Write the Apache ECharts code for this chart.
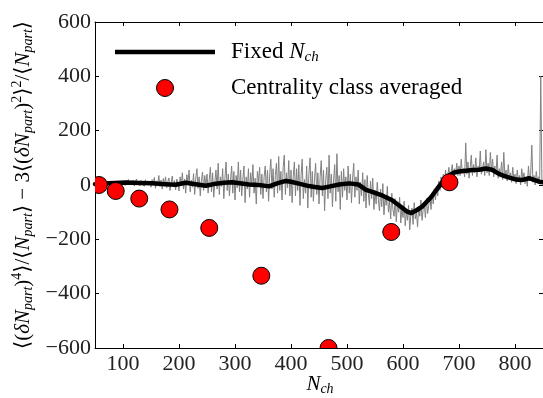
<!DOCTYPE html>
<html>
<head>
<meta charset="utf-8">
<script src="https://cdn.jsdelivr.net/npm/echarts@6/dist/echarts.min.js"></script>
<style>
html,body{margin:0;padding:0;background:#fff;}
#chart{width:543px;height:398px;}
</style>
</head>
<body>
<div id="chart"></div>
<script>
// ---- data ----
const xTicks = [100, 200, 300, 400, 500, 600, 700, 800];
const yTicks = [-600, -400, -200, 0, 200, 400, 600];

// fixed N_ch, raw (gray), sampled every 2 in N_ch starting at 50
const rawStart = 50;
const rawStep = 2;
const rawY = [
  5, 9, 1, 11, 3, 8, -1, 12, 4, 7, 0, 10, 6, 2, 13, 3, 9, -2, 8, 15, 1, 6, 11, -1, 9,
  4, 16, -2, 12, 7, 20, 0, 14, 3, 18, -4, 9, 22, 2, 13, -3, 17, 6, 11, -5, 19, 4, 15, 0, 12,
  -8, 20, 3, 28, -12, 15, 6, 35, -5, 18, -15, 24, 2, 30, -10, 12, 26, -20, 8, 33, -4, 16, -18, 22, 5,
  -22, 30, 0, 45, -15, 22, -30, 38, 8, 55, -25, 18, -8, 42, -35, 25, 60, -12, 30, -40, 15, 48, -20, 35, -5,
  40, -30, 20, 65, -25, 45, -45, 10, 55, -15, 80, -35, 30, -5, 60, -50, 25, 85, -20, 40, -40, 15, 70, -30, 50,
  -55, 35, -10, 85, -25, 55, -40, 20, 70, -65, 30, -15, 60, -45, 45, -5, 75, -30, 25, -70, 50, 10, 65, -35, 40,
  -50, 30, 70, -25, 55, -60, 40, 95, -15, 60, -45, 35, 80, -30, 105, -20, 50, -55, 65, 110, -35, 45, -10, 90, -40,
  55, -65, 30, 85, -40, 60, -20, 75, -75, 35, 95, -50, 20, -30, 70, -85, 40, 100, -45, 50, -60, 25, 80, -35, 45,
  -70, 30, 90, -40, 55, -95, 20, 65, -50, 110, -30, 40, -80, 15, 75, -60, 115, -25, 35, -90, 50, -45, 60, -20, 30,
  -55, 70, -30, 40, -65, 25, 80, -45, 30, -20, 55, -70, 10, -40, 45, -60, 20, -85, 35, -30, -75, 15, -50, 25, -90,
  -20, -70, 10, -55, -95, -15, -80, 5, -110, -40, -75, -5, -100, -60, -125, -30, -90, -115, -50, -135, -70, -100, -45, -140, -85,
  -120, -60, -150, -95, -130, -75, -165, -110, -85, -145, -65, -125, -100, -155, -80, -115, -55, -130, -90, -70, -120, -50, -105, -75, -40,
  -90, -30, -70, -15, -55, -5, -40, 15, -20, 30, -10, 40, 5, 55, 15, 35, 65, 20, 50, 75, 30, 60, 40, 80, 35,
  70, 35, 95, 45, 60, 30, 155, 40, 85, 25, 65, 110, 35, 75, 45, 100, 30, 70, 50, 125, 40, 60, 85, 35, 130,
  45, 80, 35, 120, 50, 95, 30, 70, 40, 110, 25, 60, 35, 85, 20, 120, 30, 55, 15, 75, 25, 45, 10, 65, 20,
  40, 5, 55, 15, 35, 0, 60, 20, 45, 5, 30, -5, 70, 15, 40, 147, 10, 35, 0, 50, 15, 30, 5, 400, 20,
  10
];

// fixed N_ch, smoothed (black)
const smoothX = [50, 75, 105, 130, 152, 175, 194, 212, 230, 248, 266, 280, 295, 325, 343, 361, 375, 391, 400, 414, 432, 445, 456, 470, 486, 504, 520, 534, 545, 560, 580, 595, 607, 615, 625, 634, 650, 659, 668, 677, 690, 700, 724, 736, 748, 759, 772, 784, 802, 812, 825, 843, 850];
const smoothY = [3, 6, 9, 7, 6, 3, 1, 8, 3, -3, 5, 8, 10, 2, 0, -5, 6, 15, 12, 5, -4, -8, -11, -5, 2, 6, 2, -18, -25, -36, -55, -78, -98, -103, -92, -80, -45, -20, 5, 28, 45, 50, 55, 56, 61, 56, 40, 31, 20, 18, 25, 12, 10];

// centrality class averaged (red)
const classX = [57, 87, 129, 183, 254, 347, 467, 579, 683];
const classY = [0, -22, -50, -90, -158, -334, -600, -173, 10];

// ---- chart ----
const FONT = "'Liberation Serif', 'DejaVu Serif', serif";
const rawData = rawY.map((v, i) => [rawStart + i * rawStep, v]);
const smoothData = smoothX.map((x, i) => [x, smoothY[i]]);
const classData = classX.map((x, i) => [x, classY[i]]);

const rich = {
  r: {fontFamily: FONT, fontSize: 21, lineHeight: 21, color: '#222'},
  i: {fontFamily: FONT, fontSize: 21, lineHeight: 21, fontStyle: 'italic', color: '#222'},
  sub: {fontFamily: FONT, fontSize: 14, lineHeight: 14, fontStyle: 'italic', color: '#222', padding: [10, 0, 0, 0]},
  sup: {fontFamily: FONT, fontSize: 14, lineHeight: 14, color: '#222', padding: [0, 0, 12, 0]}
};
const richLeg = {
  r: {fontFamily: FONT, fontSize: 23, lineHeight: 23, color: '#222'},
  i: {fontFamily: FONT, fontSize: 23, lineHeight: 23, fontStyle: 'italic', color: '#222'},
  sub: {fontFamily: FONT, fontSize: 15, lineHeight: 15, fontStyle: 'italic', color: '#222', padding: [10, 0, 0, 0]}
};
const minus = v => String(v).replace('-', '\u2212');

const chart = echarts.init(document.getElementById('chart'), null, {renderer: 'canvas'});
const axisCommon = {
  type: 'value', min: 50, max: 850,
  splitLine: {show: false},
  axisLine: {show: true, onZero: false, lineStyle: {color: '#000', width: 1}},
  axisTick: {show: true, inside: true, length: 4, customValues: xTicks, lineStyle: {color: '#000'}}
};
const yCommon = {
  type: 'value', min: -600, max: 600, interval: 200,
  splitLine: {show: false},
  axisLine: {show: true, onZero: false, lineStyle: {color: '#000', width: 1}},
  axisTick: {show: true, inside: true, length: 4, lineStyle: {color: '#000'}}
};
chart.setOption({
  animation: false,
  backgroundColor: '#fff',
  grid: {left: 95, right: -1, top: 22, bottom: 50, containLabel: false},
  xAxis: [
    Object.assign({}, axisCommon, {
      position: 'bottom',
      axisLabel: {customValues: xTicks, fontFamily: FONT, fontSize: 22, color: '#222', margin: 5}
    }),
    Object.assign({}, axisCommon, {position: 'top', axisLabel: {show: false}})
  ],
  yAxis: [
    Object.assign({}, yCommon, {
      position: 'left',
      axisLabel: {fontFamily: FONT, fontSize: 22, color: '#222', margin: 4, formatter: minus}
    }),
    Object.assign({}, yCommon, {position: 'right', axisLabel: {show: false}})
  ],
  series: [
    {
      name: 'raw', type: 'line', data: rawData, symbol: 'none', silent: true,
      lineStyle: {color: '#808080', width: 1}, z: 2
    },
    {
      name: 'Fixed N_ch', type: 'line', data: smoothData, symbol: 'none', silent: true,
      lineStyle: {color: '#000', width: 4.5, cap: 'round', join: 'round'}, z: 3
    },
    {
      name: 'Centrality class averaged', type: 'custom', data: classData, clip: true, z: 4,
      encode: {x: 0, y: 1},
      renderItem: (params, api) => {
        const p = api.coord([api.value(0), api.value(1)]);
        return {type: 'circle', shape: {cx: p[0], cy: p[1], r: 8.5},
                style: {fill: '#ff0000', stroke: '#000', lineWidth: 1}};
      }
    }
  ],
  graphic: [
    {type: 'line', shape: {x1: 115, y1: 52, x2: 215, y2: 52}, style: {stroke: '#000', lineWidth: 4.5}, z: 10},
    {type: 'circle', shape: {cx: 165, cy: 88, r: 8.5}, style: {fill: '#ff0000', stroke: '#000', lineWidth: 1}, z: 10},
    {type: 'text', x: 231, y: 52, z: 10, style: {text: '{r|Fixed }{i|N}{sub|ch}', rich: richLeg, align: 'left', verticalAlign: 'middle'}},
    {type: 'text', x: 231, y: 88, z: 10, style: {text: '{r|Centrality class averaged}', rich: richLeg, align: 'left', verticalAlign: 'middle'}},
    {type: 'text', x: 320, y: 384, z: 10, style: {text: '{i|N}{sub|ch}', rich: rich, align: 'center', verticalAlign: 'middle'}},
    {type: 'text', x: 23, y: 185, rotation: Math.PI / 2, z: 10,
     style: {text: '{r|\u27e8(}{i|\u03b4N}{sub|part}{r|)}{sup|4}{r|\u27e9/\u27e8}{i|N}{sub|part}{r|\u27e9 \u2212 3\u27e8(}{i|\u03b4N}{sub|part}{r|)}{sup|2}{r|\u27e9}{sup|2}{r|/\u27e8}{i|N}{sub|part}{r|\u27e9}',
             rich: rich, align: 'center', verticalAlign: 'middle'}}
  ]
});
</script>
</body>
</html>
